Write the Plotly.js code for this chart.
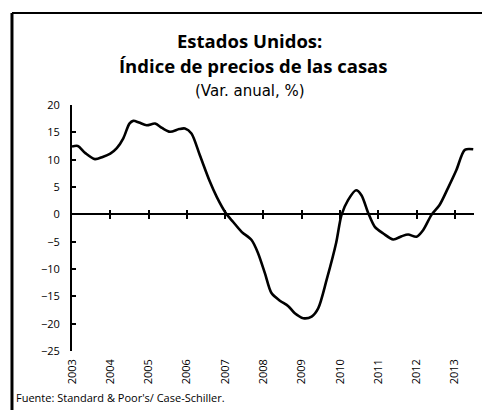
<!DOCTYPE html>
<html>
<head>
<meta charset="utf-8">
<script src="https://cdn.plot.ly/plotly-3.0.1.min.js"></script>
<style>html,body{margin:0;padding:0;background:#fff;}#chart{width:482px;height:410px;}</style>
</head>
<body>
<div id="chart"></div>
<script>
// Data (decimal year, annual % change)
const fecha = [2003.00, 2003.15, 2003.35, 2003.60, 2003.80, 2004.00, 2004.17, 2004.34, 2004.50, 2004.60,
  2004.75, 2004.95, 2005.17, 2005.35, 2005.56, 2005.80, 2005.95, 2006.12, 2006.34, 2006.60,
  2006.78, 2007.02, 2007.21, 2007.43, 2007.69, 2007.86, 2008.04, 2008.21, 2008.43, 2008.65,
  2008.82, 2009.04, 2009.26, 2009.43, 2009.65, 2009.90, 2010.04, 2010.21, 2010.42, 2010.56,
  2010.74, 2010.91, 2011.13, 2011.39, 2011.61, 2011.78, 2012.00, 2012.17, 2012.39, 2012.60,
  2012.82, 2013.04, 2013.26, 2013.48];
const variacion = [12.4, 12.5, 11.2, 10.1, 10.5, 11.1, 12.1, 13.9, 16.6, 17.1,
  16.8, 16.3, 16.6, 15.8, 15.1, 15.6, 15.7, 14.8, 10.8, 6.0,
  3.2, 0.2, -1.4, -3.2, -4.7, -7.1, -10.8, -14.4, -15.8, -16.8,
  -18.1, -19.0, -18.7, -17.2, -12.0, -5.2, -0.1, 2.6, 4.4, 3.5,
  0.2, -2.3, -3.5, -4.6, -4.0, -3.7, -4.1, -2.9, -0.1, 1.7,
  4.8, 8.1, 11.8, 11.9];
const anios = [2003, 2004, 2005, 2006, 2007, 2008, 2009, 2010, 2011, 2012, 2013];
const etiquetasAnios = anios.map(String);
const ticksCero = anios.slice(1);

const FONT = 'Open Sans, Noto Sans, sans-serif';
const xr = [2003, 2013.5];

const traces = [
  {x: fecha, y: variacion, type: 'scatter', mode: 'lines',
   line: {color: '#000', width: 2.6, shape: 'spline', smoothing: 0.8},
   hoverinfo: 'skip', showlegend: false},
  {x: [], y: [], xaxis: 'x2', yaxis: 'y', type: 'scatter', showlegend: false},
  {x: [], y: [], xaxis: 'x3', yaxis: 'y', type: 'scatter', showlegend: false}
];

const zeroPos = 25 / 45;

const layout = {
  width: 482, height: 410,
  margin: {l: 72, r: 8, t: 105, b: 59},
  paper_bgcolor: '#fff', plot_bgcolor: '#fff',
  font: {family: FONT, color: '#000'},
  showlegend: false,
  xaxis: {
    range: xr, tickmode: 'array', tickvals: anios, ticktext: etiquetasAnios,
    tickangle: -90, showline: false, ticks: '', showgrid: false, zeroline: false,
    tickfont: {size: 11, family: FONT, color: '#000'}, ticklabelstandoff: 5
  },
  xaxis2: {
    overlaying: 'x', range: xr, anchor: 'free', position: zeroPos,
    showline: true, linecolor: '#000', linewidth: 2,
    tickmode: 'array', tickvals: ticksCero, ticks: 'outside', ticklen: 4, tickwidth: 2, tickcolor: '#000',
    showticklabels: false, showgrid: false, zeroline: false
  },
  xaxis3: {
    overlaying: 'x', range: xr, anchor: 'free', position: zeroPos,
    showline: false,
    tickmode: 'array', tickvals: ticksCero, ticks: 'inside', ticklen: 4, tickwidth: 2, tickcolor: '#000',
    showticklabels: false, showgrid: false, zeroline: false
  },
  yaxis: {
    range: [-25, 20], dtick: 5, tick0: 0, showline: true, linecolor: '#000', linewidth: 2,
    ticks: 'inside', ticklen: 4, tickwidth: 2, tickcolor: '#000',
    showgrid: false, zeroline: false,
    tickfont: {size: 11, family: FONT, color: '#000'}, ticklabelstandoff: 8
  },
  shapes: [
    {type: 'line', xref: 'paper', yref: 'paper', x0: -0.1493, x1: -0.1493, y0: 1.374, y1: -0.24,
     line: {color: '#000', width: 3}},
    {type: 'line', xref: 'paper', yref: 'paper', x0: -0.1493, x1: 1.03, y0: 1.374, y1: 1.374,
     line: {color: '#000', width: 2}}
  ],
  annotations: [
    {text: '<b>Estados Unidos:</b>', xref: 'paper', yref: 'paper', x: 0.4420, y: 1.2602,
     xanchor: 'center', yanchor: 'middle', showarrow: false, font: {size: 18.5, family: FONT, color: '#000'}},
    {text: '<b>Índice de precios de las casas</b>', xref: 'paper', yref: 'paper', x: 0.4515, y: 1.1586,
     xanchor: 'center', yanchor: 'middle', showarrow: false, font: {size: 18.5, family: FONT, color: '#000'}},
    {text: '(Var. anual, %)', xref: 'paper', yref: 'paper', x: 0.4428, y: 1.0570,
     xanchor: 'center', yanchor: 'middle', showarrow: false, font: {size: 15, family: 'DejaVu Sans, sans-serif', color: '#000'}},
    {text: "Fuente: Standard & Poor's/ Case-Schiller.", xref: 'paper', yref: 'paper', x: -0.1443, y: -0.191,
     xanchor: 'left', yanchor: 'middle', showarrow: false, font: {size: 11, family: FONT, color: '#000'}}
  ]
};

Plotly.newPlot('chart', traces, layout, {staticPlot: true, displayModeBar: false});
</script>
</body>
</html>
